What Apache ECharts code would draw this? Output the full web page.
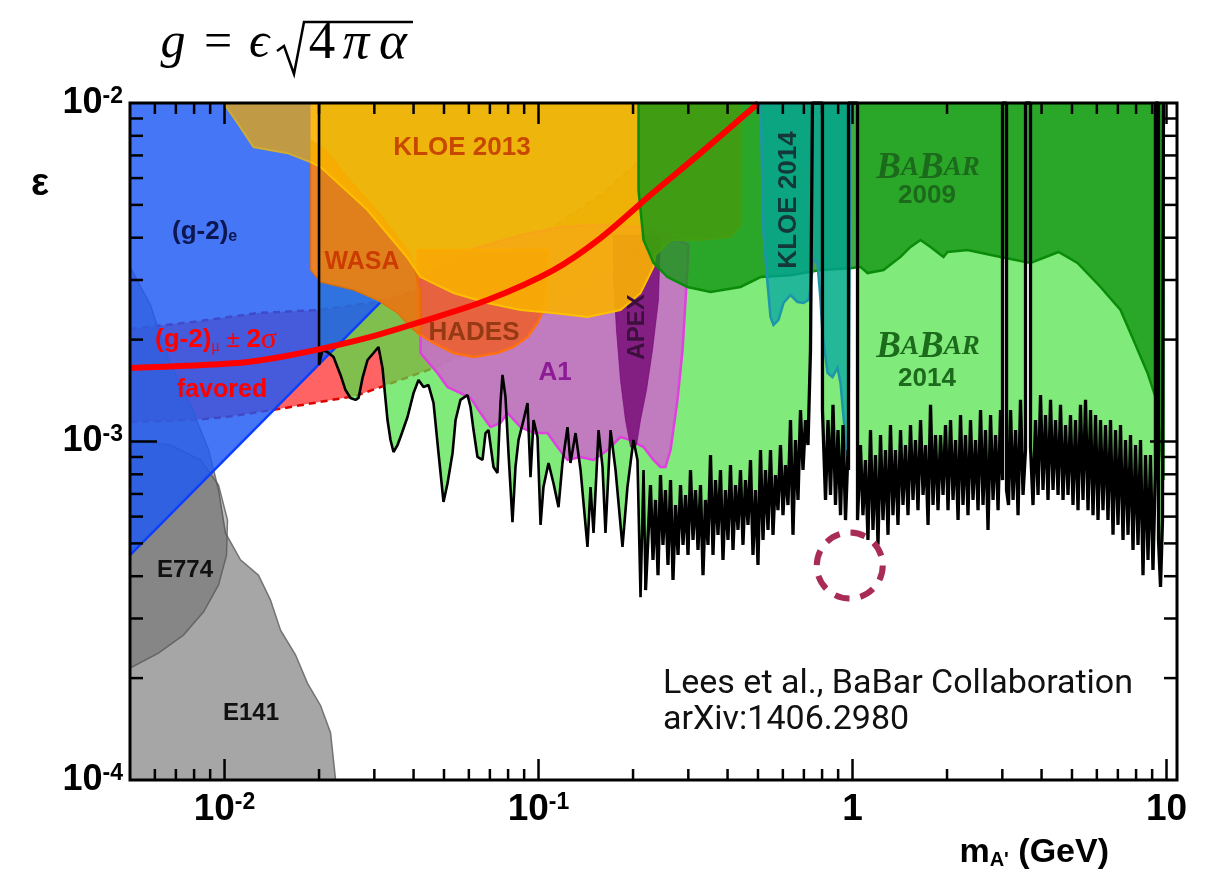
<!DOCTYPE html>
<html>
<head>
<meta charset="utf-8">
<title>BaBar dark photon exclusion</title>
<script src="https://cdn.jsdelivr.net/npm/echarts@6/dist/echarts.min.js"></script>
<style>
  html, body { margin: 0; padding: 0; background: #fff; }
  #chart { width: 1214px; height: 878px; }
</style>
</head>
<body>
<div id="chart"></div>
<script>
// axis ranges (mass in GeV, kinetic mixing epsilon)
const xMin = 0.005, xMax = 10.8;
const yMin = 1e-4, yMax = 1e-2;

const xMajorTicks = [0.01, 0.1, 1, 10];
const xMinorTicks = [0.006, 0.007, 0.008, 0.009, 0.02, 0.03, 0.04, 0.05, 0.06, 0.07, 0.08, 0.09,
  0.2, 0.3, 0.4, 0.5, 0.6, 0.7, 0.8, 0.9, 2, 3, 4, 5, 6, 7, 8, 9];
const yMajorTicks = [1e-3];
const yMinorTicks = [2e-4, 3e-4, 4e-4, 5e-4, 6e-4, 7e-4, 8e-4, 9e-4,
  2e-3, 3e-3, 4e-3, 5e-3, 6e-3, 7e-3, 8e-3, 9e-3];

// (g-2)_mu favoured value and its +-2 sigma band
const g2muMass = [0.005, 0.011, 0.01508, 0.02097, 0.02917, 0.04209, 0.06878, 0.1116, 0.1576, 0.2273, 0.328, 0.5019];
const g2muEps = [1.649e-3, 1.706e-3, 1.777e-3, 1.890e-3, 2.036e-3, 2.255e-3, 2.618e-3, 3.21e-3, 3.99e-3, 5.35e-3, 7.11e-3, 1.0e-2];
const g2muHiMass = [0.005, 0.00791, 0.01283, 0.01994, 0.03071, 0.0463, 0.06878, 0.1015, 0.1576, 0.2113];
const g2muHiEps = [2.15e-3, 2.255e-3, 2.397e-3, 2.446e-3, 2.583e-3, 2.90e-3, 3.393e-3, 4.07e-3, 5.345e-3, 6.78e-3];
const g2muLoMass = [0.005, 0.00791, 0.01007, 0.01486, 0.01852, 0.02614, 0.03139, 0.0463, 0.06878, 0.1015, 0.1576, 0.2113];
const g2muLoEps = [1.141e-3, 1.157e-3, 1.181e-3, 1.247e-3, 1.292e-3, 1.363e-3, 1.448e-3, 1.649e-3, 1.928e-3, 2.333e-3, 3.0e-3, 3.81e-3];

// beam dump regions
const e141Mass = [0.005, 0.005, 0.00581, 0.00663, 0.00724, 0.00791, 0.0089, 0.00957, 0.01007, 0.01124,
  0.01283, 0.01401, 0.01508, 0.01684, 0.01838, 0.02022, 0.02176, 0.02258];
const e141Eps = [1e-4, 3.28e-3, 2.53e-3, 1.741e-3, 1.468e-3, 1.239e-3, 9.44e-4, 7.19e-4, 5.37e-4, 4.47e-4,
  4.03e-4, 3.40e-4, 2.77e-4, 2.34e-4, 1.93e-4, 1.66e-4, 1.38e-4, 1e-4];
const e774Mass = [0.005, 0.00673, 0.00839, 0.00957, 0.01022, 0.01015, 0.00957, 0.00858, 0.0074, 0.00616, 0.005];
const e774Eps = [1.01e-3, 9.76e-4, 8.82e-4, 7.43e-4, 5.86e-4, 4.62e-4, 3.77e-4, 3.14e-4, 2.68e-4, 2.37e-4, 2.14e-4];

// (g-2)_e
const g2eMass = [0.005, 0.01879, 0.01879, 0.02022, 0.02575, 0.03139, 0.005];
const g2eEps = [0.01, 0.01, 3.21e-3, 2.96e-3, 2.803e-3, 2.58e-3, 4.62e-4];

const wasaMass = [0.01879, 0.01879, 0.02022, 0.02575, 0.03071, 0.03556, 0.03998, 0.04209, 0.04209, 0.03911, 0.03139, 0.02428, 0.02097];
const wasaEps = [7.77e-3, 3.21e-3, 2.96e-3, 2.803e-3, 2.618e-3, 2.397e-3, 2.135e-3, 2.078e-3, 2.803e-3, 3.56e-3, 4.67e-3, 6.13e-3, 7.26e-3];

const hadesMass = [0.04118, 0.04118, 0.0463, 0.0536, 0.06209, 0.07402, 0.08322, 0.09226, 0.09927, 0.1053, 0.1076];
const hadesEps = [3.68e-3, 2.092e-3, 1.955e-3, 1.826e-3, 1.777e-3, 1.826e-3, 1.902e-3, 2.036e-3, 2.24e-3, 2.53e-3, 3.68e-3];

const a1Mass = [0.04209, 0.04873, 0.06072, 0.0876, 0.1175, 0.1576, 0.2273, 0.3004, 0.2982, 0.2939,
  0.2875, 0.2771, 0.2633, 0.2537, 0.2446, 0.2323, 0.216, 0.1963, 0.1824, 0.1659,
  0.1497, 0.1361, 0.1237, 0.1149, 0.1068, 0.09641, 0.0876, 0.07964, 0.07566, 0.07031,
  0.06534, 0.06072, 0.05643, 0.0513, 0.04767, 0.04209];
const a1Eps = [3.0e-3, 3.325e-3, 3.68e-3, 4.07e-3, 4.30e-3, 4.36e-3, 4.27e-3, 3.81e-3, 3.28e-3, 2.618e-3,
  1.864e-3, 1.327e-3, 9.44e-4, 8.41e-4, 8.41e-4, 8.82e-4, 9.63e-4, 1.01e-3, 1.031e-3, 9.44e-4,
  8.82e-4, 9.0e-4, 8.82e-4, 9.63e-4, 1.059e-3, 1.059e-3, 1.103e-3, 1.214e-3, 1.134e-3, 1.103e-3,
  1.214e-3, 1.345e-3, 1.390e-3, 1.448e-3, 1.594e-3, 1.826e-3];

const apexMass = [0.1734, 0.2446, 0.241, 0.2307, 0.2208, 0.2113, 0.2052, 0.1963, 0.1892, 0.1824, 0.1771, 0.1734];
const apexEps = [4.07e-3, 4.07e-3, 2.618e-3, 1.864e-3, 1.419e-3, 1.157e-3, 9.76e-4, 9.63e-4, 1.157e-3, 1.52e-3, 2.135e-3, 3.0e-3];

const kloe13Mass = [0.00993, 0.4398, 0.4398, 0.4087, 0.328, 0.2633, 0.2358, 0.2323, 0.2113, 0.1824,
  0.1432, 0.1116, 0.0876, 0.06878, 0.0536, 0.04209, 0.03826, 0.02854, 0.02022, 0.01879,
  0.01588, 0.01237, 0.011];
const kloe13Eps = [0.01, 0.01, 4.36e-3, 4.02e-3, 3.94e-3, 3.94e-3, 3.56e-3, 3.28e-3, 2.746e-3, 2.446e-3,
  2.333e-3, 2.397e-3, 2.446e-3, 2.565e-3, 2.746e-3, 3.06e-3, 3.49e-3, 4.83e-3, 6.47e-3, 6.69e-3,
  7.11e-3, 7.41e-3, 8.73e-3];

const babar09Mass = [0.2082, 0.2082, 0.216, 0.2323, 0.2576, 0.2982, 0.353, 0.4398, 0.5093, 0.6346,
  0.7907, 0.9855, 1.060, 1.116, 1.255, 1.422, 1.530, 1.647, 1.772, 1.949,
  2.007, 2.324, 2.961, 3.689, 4.53, 5.207, 6.163, 7.137, 7.85, 8.70,
  9.22, 9.57, 9.78, 9.78];
const babar09Eps = [0.01, 5.53e-3, 3.94e-3, 3.37e-3, 3.06e-3, 2.861e-3, 2.765e-3, 2.861e-3, 3.06e-3, 3.10e-3,
  3.21e-3, 3.25e-3, 3.28e-3, 3.145e-3, 3.21e-3, 3.51e-3, 3.756e-3, 3.94e-3, 3.756e-3, 3.51e-3,
  3.63e-3, 3.68e-3, 3.51e-3, 3.37e-3, 3.63e-3, 3.37e-3, 2.861e-3, 2.446e-3, 1.995e-3, 1.594e-3,
  1.354e-3, 1.01e-3, 7.69e-4, 0.01];

const kloe14Mass = [0.5093, 0.5206, 0.5361, 0.548, 0.5602, 0.5811, 0.6028, 0.6346, 0.668, 0.698,
  0.7241, 0.7348, 0.7511, 0.7735, 0.7907, 0.8022, 0.8325, 0.8635, 0.8958, 0.9158,
  0.9361, 0.964, 0.9711, 0.9855];
const kloe14Eps = [0.01, 4.125e-3, 2.94e-3, 2.333e-3, 2.21e-3, 2.286e-3, 2.565e-3, 2.709e-3, 2.583e-3, 2.565e-3,
  2.618e-3, 2.861e-3, 3.44e-3, 3.37e-3, 2.618e-3, 2.092e-3, 1.594e-3, 1.551e-3, 1.649e-3, 1.489e-3,
  1.181e-3, 8.82e-4, 1.01e-3, 0.01];

// BaBar 2014 upper limit, low mass part (resolved wiggles)
const babar14LowMass = [
  0.02, 0.02, 0.02051, 0.02128, 0.02224, 0.02341, 0.02428, 0.02519, 0.02614, 0.02672,
  0.02751, 0.02854, 0.02982, 0.03093, 0.03185, 0.03304, 0.03378, 0.03453, 0.03556, 0.03635,
  0.03826, 0.03999, 0.04148, 0.04302, 0.04463, 0.0463, 0.04802, 0.04982, 0.05132, 0.05324,
  0.05443, 0.05643, 0.05941, 0.06072, 0.06209, 0.06392, 0.06632, 0.0678, 0.06928, 0.07189,
  0.07402, 0.07566, 0.07678, 0.07848, 0.08023, 0.08262, 0.08446, 0.08636, 0.08959, 0.09226,
  0.09429, 0.09641, 0.09927, 0.1015, 0.1037, 0.1076, 0.1116, 0.1158, 0.1192, 0.1237,
  0.1264, 0.1312, 0.1361, 0.1432, 0.1464, 0.1497, 0.1553, 0.1599, 0.1634, 0.1696,
  0.1759, 0.1851, 0.192, 0.2006, 0.2066, 0.2113, 0.216, 0.2192
];
const babar14LowEps = [
  0.01, 1.683e-3, 1.864e-3, 1.839e-3, 1.777e-3, 1.573e-3, 1.419e-3, 1.345e-3, 1.327e-3, 1.345e-3,
  1.541e-3, 1.741e-3, 1.826e-3, 1.902e-3, 1.649e-3, 1.157e-3, 1.01e-3, 9.31e-4, 9.76e-4, 1.031e-3,
  1.181e-3, 1.390e-3, 1.52e-3, 1.448e-3, 1.468e-3, 1.300e-3, 9.25e-4, 6.63e-4, 7.53e-4, 9.25e-4,
  1.157e-3, 1.327e-3, 1.372e-3, 1.265e-3, 1.081e-3, 9.0e-4, 8.82e-4, 1.059e-3, 1.081e-3, 8.41e-4,
  8.07e-4, 1.300e-3, 1.573e-3, 1.354e-3, 9.25e-4, 5.78e-4, 8.41e-4, 1.01e-3, 1.157e-3, 1.30e-3,
  7.85e-4, 1.157e-3, 1.031e-3, 5.67e-4, 7.34e-4, 8.64e-4, 7.53e-4, 6.40e-4, 8.64e-4, 1.103e-3,
  8.64e-4, 1.059e-3, 8.24e-4, 4.88e-4, 7.34e-4, 5.37e-4, 1.081e-3, 8.41e-4, 5.37e-4, 1.081e-3,
  8.24e-4, 4.88e-4, 7.34e-4, 1.01e-3, 8.82e-4, 3.47e-4, 8.24e-4, 3.64e-4
];

// BaBar 2014 upper limit, fine-binned part (vetoed resonance windows go up to the top)
const babar14HighMass = [
  0.2273, 0.2315, 0.2358, 0.2402, 0.2446, 0.2491, 0.2537, 0.2584, 0.2633, 0.2681,
  0.2731, 0.2782, 0.2833, 0.2886, 0.2939, 0.2993, 0.3048, 0.3105, 0.3162, 0.3221,
  0.328, 0.3341, 0.3402, 0.3465, 0.353, 0.3595, 0.3662, 0.3729, 0.3798, 0.3868,
  0.394, 0.4013, 0.4087, 0.4163, 0.424, 0.4318, 0.4398, 0.4479, 0.4562, 0.4647,
  0.4733, 0.482, 0.491, 0.5, 0.5093, 0.5187, 0.5283, 0.5381, 0.548, 0.5582,
  0.5685, 0.579, 0.5897, 0.6006, 0.6117, 0.623, 0.6346, 0.6463, 0.6583, 0.6705,
  0.6829, 0.6955, 0.7084, 0.7215, 0.7348, 0.7456,
  0.8022, 0.8022, 0.8204, 0.8356, 0.8509, 0.8667, 0.8827, 0.899, 0.9158, 0.9327,
  0.95, 0.9676, 0.9711, 0.9711,
  1.0374, 1.0374, 1.060, 1.0796, 1.0996, 1.12, 1.141, 1.162, 1.1836, 1.2055,
  1.228, 1.2507, 1.2738, 1.2974, 1.321, 1.3455, 1.3703, 1.3957, 1.422, 1.4483,
  1.475, 1.5023, 1.530, 1.5583, 1.587, 1.6164, 1.647, 1.6775, 1.7085, 1.7401,
  1.772, 1.8048, 1.838, 1.872, 1.907, 1.9423, 1.978, 2.0146, 2.052, 2.09,
  2.129, 2.1684, 2.208, 2.2488, 2.290, 2.3324, 2.376, 2.42, 2.465, 2.5106,
  2.557, 2.6043, 2.652, 2.7011, 2.752, 2.8029, 2.855, 2.9078, 2.961, 3.004, 3.004,
  3.094, 3.094, 3.14, 3.187, 3.246, 3.306, 3.367, 3.428, 3.492, 3.556, 3.556,
  3.689, 3.689, 3.757, 3.827, 3.898, 3.970, 4.043, 4.118, 4.194, 4.272,
  4.351, 4.432, 4.514, 4.597, 4.682, 4.769, 4.857, 4.946, 5.038, 5.131,
  5.226, 5.323, 5.421, 5.522, 5.624, 5.728, 5.834, 5.942, 6.052, 6.163,
  6.277, 6.393, 6.511, 6.632, 6.755, 6.880, 7.007, 7.137, 7.269, 7.404,
  7.541, 7.680, 7.822, 7.967, 8.114, 8.264, 8.417, 8.573, 8.732, 8.89,
  9.055, 9.22, 9.22, 9.43, 9.43, 9.57, 9.71, 9.78
];
const babar14HighEps = [
  7.43e-4, 4.47e-4, 6.72e-4, 4.03e-4, 7.96e-4, 4.95e-4, 7.19e-4, 4.32e-4, 7.69e-4, 3.90e-4,
  6.49e-4, 4.62e-4, 7.43e-4, 4.95e-4, 6.95e-4, 4.62e-4, 8.24e-4, 5.12e-4, 7.19e-4, 4.78e-4,
  7.43e-4, 4.03e-4, 6.72e-4, 4.95e-4, 9.12e-4, 4.62e-4, 7.69e-4, 5.30e-4, 8.24e-4, 4.47e-4,
  7.19e-4, 5.12e-4, 8.52e-4, 4.78e-4, 7.43e-4, 5.48e-4, 8.24e-4, 4.95e-4, 7.69e-4, 5.67e-4,
  8.82e-4, 4.62e-4, 7.19e-4, 4.32e-4, 9.44e-4, 5.12e-4, 8.24e-4, 5.48e-4, 9.44e-4, 5.30e-4,
  7.96e-4, 6.27e-4, 9.76e-4, 6.06e-4, 8.52e-4, 6.49e-4, 1.157e-3, 5.30e-4, 1.01e-3, 6.72e-4,
  1.239e-3, 8.24e-4, 1.157e-3, 9.76e-4, 1.864e-3, 0.01,
  0.01, 1.239e-3, 6.72e-4, 1.157e-3, 6.95e-4, 1.283e-3, 6.49e-4, 1.081e-3, 6.06e-4, 1.119e-3,
  5.86e-4, 9.44e-4, 8.24e-4, 0.01,
  0.01, 5.86e-4, 9.76e-4, 6.06e-4, 8.82e-4, 5.12e-4, 1.081e-3, 5.48e-4, 9.12e-4, 4.95e-4,
  1.045e-3, 5.86e-4, 9.44e-4, 5.30e-4, 1.119e-3, 6.06e-4, 9.44e-4, 5.67e-4, 1.081e-3, 6.49e-4,
  9.76e-4, 6.06e-4, 1.119e-3, 6.72e-4, 1.01e-3, 6.27e-4, 1.157e-3, 6.95e-4, 9.76e-4, 5.67e-4,
  1.283e-3, 6.49e-4, 1.045e-3, 6.27e-4, 1.045e-3, 6.95e-4, 1.119e-3, 6.27e-4, 1.157e-3, 6.72e-4,
  1.01e-3, 5.86e-4, 1.197e-3, 6.49e-4, 1.045e-3, 6.06e-4, 1.157e-3, 6.72e-4, 1.01e-3, 6.27e-4,
  1.239e-3, 6.49e-4, 1.081e-3, 5.48e-4, 1.197e-3, 6.72e-4, 1.045e-3, 6.27e-4, 1.239e-3, 7.69e-4, 0.01,
  0.01, 7.19e-4, 6.49e-4, 1.239e-3, 6.72e-4, 1.081e-3, 6.06e-4, 1.327e-3, 6.95e-4, 9.44e-4, 0.01,
  0.01, 9.63e-4, 6.49e-4, 1.157e-3, 6.95e-4, 1.372e-3, 7.19e-4, 1.197e-3, 6.72e-4, 1.327e-3,
  7.19e-4, 1.157e-3, 6.95e-4, 1.283e-3, 6.72e-4, 1.119e-3, 6.95e-4, 1.197e-3, 6.49e-4, 1.157e-3,
  6.27e-4, 1.283e-3, 6.72e-4, 1.327e-3, 6.27e-4, 1.239e-3, 6.06e-4, 1.197e-3, 5.86e-4, 1.157e-3,
  6.27e-4, 1.119e-3, 5.86e-4, 1.157e-3, 5.30e-4, 1.081e-3, 5.67e-4, 1.119e-3, 5.12e-4, 1.01e-3,
  5.30e-4, 1.045e-3, 4.78e-4, 9.76e-4, 4.95e-4, 1.01e-3, 4.03e-4, 9.12e-4, 4.47e-4, 9.12e-4,
  4.17e-4, 8.24e-4, 0.01, 0.01, 5.12e-4, 3.72e-4, 5.86e-4, 0.01
];

// dashed circle marking the region of interest
const circleMark = [[0.98, 4.3e-4]];

function zip(xs, ys) {
  return xs.map(function (x, i) { return [x, ys[i]]; });
}

// filled exclusion region drawn as one polygon through the axes
function region(name, pts, z, style) {
  return {
    name: name,
    type: 'custom',
    z: z,
    silent: true,
    clip: true,
    data: pts,
    renderItem: function (params, api) {
      if (params.dataIndex !== 0) return null;
      return {
        type: 'polygon',
        shape: { points: pts.map(function (p) { return api.coord(p); }) },
        style: Object.assign({}, style)
      };
    }
  };
}

function curve(name, data, z, lineStyle, smooth) {
  return {
    name: name,
    type: 'line',
    z: z,
    silent: true,
    clip: true,
    symbol: 'none',
    smooth: smooth || false,
    data: data,
    lineStyle: lineStyle
  };
}

function powerLabel(v) {
  const l = Math.log10(v);
  const e = Math.round(l);
  if (Math.abs(l - e) > 1e-6) return '';
  if (e === 0) return '{b|1}';
  if (e === 1) return '{b|10}';
  return '{b|10}{s|' + e + '}';
}

function labelRich(big, small) {
  return {
    b: { fontFamily: 'Liberation Sans', fontWeight: 'bold', fontSize: big, color: '#000' },
    s: { fontFamily: 'Liberation Sans', fontWeight: 'bold', fontSize: small, color: '#000', verticalAlign: 'top' }
  };
}

// rich token style for graphic texts (zrender wants fill)
function tok(family, size, fill, more) {
  return Object.assign({ fontFamily: family, fontSize: size, fill: fill, color: fill }, more || {});
}

function txt(text, x, y, font, fill, extra) {
  return Object.assign({
    type: 'text', x: x, y: y, z: 100, silent: true,
    style: { text: text, font: font, fill: fill, align: 'center', verticalAlign: 'middle',
      textAlign: 'center', textVerticalAlign: 'middle' }
  }, extra || {});
}

function richTxt(text, x, y, align, rich) {
  return {
    type: 'text', x: x, y: y, z: 100, silent: true,
    style: { text: text, rich: rich, align: align, verticalAlign: 'middle',
      textAlign: align, textVerticalAlign: 'middle' }
  };
}

const bandPts = zip(g2muHiMass, g2muHiEps).concat(zip(g2muLoMass, g2muLoEps).reverse());
const babar14Low = zip(babar14LowMass, babar14LowEps);
const babar14High = zip(babar14HighMass, babar14HighEps);
const babar14 = babar14Low.concat(babar14High);

const tickData = []
  .concat(xMajorTicks.map(function (v) { return [v, yMin, 1, 0]; }))
  .concat(xMinorTicks.map(function (v) { return [v, yMin, 0, 0]; }))
  .concat(yMajorTicks.map(function (v) { return [xMin, v, 1, 1]; }))
  .concat(yMinorTicks.map(function (v) { return [xMin, v, 0, 1]; }));

const tickStyle = { stroke: '#000', lineWidth: 2.5 };

const babarGreen = '#1c6a1c';
const babarRich = {
  B: tok('Liberation Serif', 37, babarGreen, { fontStyle: 'italic', fontWeight: 'bold' }),
  s: tok('Liberation Serif', 27, babarGreen, { fontStyle: 'italic', fontWeight: 'bold' })
};
const serif = tok('Liberation Serif', 50, '#000');
const serifIt = tok('Liberation Serif', 50, '#000', { fontStyle: 'italic' });

const chart = echarts.init(document.getElementById('chart'));

chart.setOption({
  animation: false,
  backgroundColor: '#ffffff',
  grid: { left: 130, right: 37, top: 103, bottom: 98 },
  xAxis: {
    type: 'log', logBase: 10, min: xMin, max: xMax,
    axisLine: { show: false }, axisTick: { show: false }, splitLine: { show: false },
    axisLabel: { margin: 11, formatter: powerLabel, rich: labelRich(37, 23) }
  },
  yAxis: {
    type: 'log', logBase: 10, min: yMin, max: yMax,
    axisLine: { show: false }, axisTick: { show: false }, splitLine: { show: false },
    axisLabel: { margin: 7, formatter: powerLabel, rich: labelRich(36, 23) }
  },
  graphic: [
    // coupling formula on top
    richTxt('{i|g}', 173, 44, 'center', { i: serifIt }),
    richTxt('{r|=}', 218, 44, 'center', { r: serif }),
    richTxt('{i|ϵ}', 259, 44, 'center', { i: serifIt }),
    richTxt('{r|4}', 322, 44, 'center', { r: tok('Liberation Serif', 53, '#000') }),
    richTxt('{i|π}', 356, 44, 'center', { i: tok('Liberation Serif', 53, '#000', { fontStyle: 'italic' }) }),
    richTxt('{i|α}', 393, 44, 'center', { i: tok('Liberation Serif', 53, '#000', { fontStyle: 'italic' }) }),
    { type: 'polyline', z: 100, silent: true,
      shape: { points: [[277, 51], [284, 46], [294, 74], [304, 22], [413, 22]] },
      style: { stroke: '#000', fill: null, lineWidth: 2.5 } },

    // axis names
    txt('ε', 40, 185, 'bold 38px Liberation Sans', '#000'),
    richTxt('{m|m}{s|A\'}{m| (GeV)}', 1109, 853, 'right', {
      m: tok('Liberation Sans', 34, '#000', { fontWeight: 'bold' }),
      s: tok('Liberation Sans', 20, '#000', { fontWeight: 'bold', verticalAlign: 'bottom' })
    }),

    // region labels
    richTxt('{a|(g-2)}{e|e}', 172, 232, 'left', {
      a: tok('Liberation Sans', 26, '#0c1650', { fontWeight: 'bold' }),
      e: tok('Liberation Sans', 16, '#0c1650', { fontWeight: 'bold', verticalAlign: 'bottom' })
    }),
    richTxt('{a|(g-2)}{u|μ}{p| ± }{a|2}{g|σ}', 155, 340, 'left', {
      a: tok('Liberation Sans', 26, '#ff0000', { fontWeight: 'bold' }),
      u: tok('Liberation Serif', 16, '#ff0000', { verticalAlign: 'bottom' }),
      p: tok('Liberation Sans', 24, '#ff0000'),
      g: tok('Liberation Serif', 30, '#ff0000')
    }),
    txt('favored', 222, 390, 'bold 25px Liberation Sans', '#ff0000'),
    txt('KLOE 2013', 462, 148, 'bold 26px Liberation Sans', '#c84800'),
    txt('WASA', 362, 262, 'bold 25px Liberation Sans', '#cc3c00'),
    txt('HADES', 474, 333, 'bold 26px Liberation Sans', '#963a14'),
    txt('A1', 555, 373, 'bold 26px Liberation Sans', '#8c1c96'),
    txt('APEX', 637, 327, 'bold 24px Liberation Sans', '#3c0f3c', { rotation: Math.PI / 2 }),
    txt('KLOE 2014', 789, 200, 'bold 26px Liberation Sans', '#143838', { rotation: Math.PI / 2 }),
    richTxt('{B|B}{s|A}{B|B}{s|AR}', 928, 168, 'center', babarRich),
    txt('2009', 927, 196, 'bold 26px Liberation Sans', babarGreen),
    richTxt('{B|B}{s|A}{B|B}{s|AR}', 928, 347, 'center', babarRich),
    txt('2014', 927, 379, 'bold 26px Liberation Sans', babarGreen),
    txt('E774', 185, 570, 'bold 24px Liberation Sans', '#111'),
    txt('E141', 251, 713, 'bold 24px Liberation Sans', '#111'),

    // reference
    richTxt('{t|Lees et al., BaBar Collaboration}', 663, 684, 'left', { t: tok('Roboto', 34, '#111') }),
    richTxt('{t|arXiv:1406.2980}', 663, 720, 'left', { t: tok('Roboto', 34, '#111') })
  ],
  series: [
    region('(g-2)mu band', bandPts, 1, { fill: 'rgba(255,60,60,0.8)' }),
    curve('band upper', zip(g2muHiMass, g2muHiEps), 1.5, { color: '#e00000', width: 2.5, type: [7, 5] }),
    curve('band lower', zip(g2muLoMass, g2muLoEps), 1.5, { color: '#e00000', width: 2.5, type: [7, 5] }),
    region('E141', zip(e141Mass, e141Eps), 2, { fill: 'rgba(128,128,128,0.7)', stroke: 'rgba(105,105,105,0.9)', lineWidth: 1.5 }),
    region('E774', zip(e774Mass, e774Eps), 2.1, { fill: 'rgba(60,60,60,0.3)', stroke: 'rgba(90,90,90,0.8)', lineWidth: 1.5 }),
    region('BaBar 2014', babar14, 3, { fill: 'rgba(79,226,70,0.72)' }),
    region('(g-2)e', zip(g2eMass, g2eEps), 4, { fill: 'rgba(30,90,245,0.78)' }),
    curve('(g-2)e edge', zip(g2eMass.slice(5), g2eEps.slice(5)), 4.1, { color: '#0a3cff', width: 2.5 }),
    region('A1', zip(a1Mass, a1Eps), 5, { fill: 'rgba(200,112,200,0.9)', stroke: '#e040e0', lineWidth: 2.5 }),
    region('APEX', zip(apexMass, apexEps), 6, { fill: 'rgba(110,0,110,0.75)', stroke: 'rgba(120,0,120,0.6)', lineWidth: 1 }),
    region('HADES', zip(hadesMass, hadesEps), 7, { fill: 'rgba(235,95,50,0.9)', stroke: '#ff7010', lineWidth: 2.5 }),
    region('WASA', zip(wasaMass, wasaEps), 8, { fill: 'rgba(232,118,20,0.92)', stroke: 'rgba(230,110,0,0.9)', lineWidth: 1.5 }),
    region('KLOE 2013', zip(kloe13Mass, kloe13Eps), 9, { fill: 'rgba(250,176,0,0.9)', stroke: '#ffc000', lineWidth: 2 }),
    region('(g-2)e over', zip(g2eMass, g2eEps), 10, { fill: 'rgba(30,90,245,0.2)' }),
    region('BaBar 2009', zip(babar09Mass, babar09Eps), 11, { fill: 'rgba(20,150,20,0.8)', stroke: '#0a8c0a', lineWidth: 2.5 }),
    region('KLOE 2014', zip(kloe14Mass, kloe14Eps), 12, { fill: 'rgba(0,165,165,0.72)', stroke: '#1e96aa', lineWidth: 2.5 }),
    curve('BaBar 2014 limit', babar14Low, 13, { color: '#000', width: 2.6 }),
    curve('BaBar 2014 limit fine', [babar14Low[babar14Low.length - 1]].concat(babar14High), 13, { color: '#000', width: 3.3 }),
    curve('(g-2)mu', zip(g2muMass, g2muEps), 14, { color: '#ff0000', width: 6 }, 0.3),
    {
      name: 'mark', type: 'custom', z: 15, silent: true, data: circleMark,
      renderItem: function (params, api) {
        const c = api.coord([api.value(0), api.value(1)]);
        return { type: 'circle', shape: { cx: c[0], cy: c[1], r: 33 },
          style: { fill: null, stroke: '#a82c55', lineWidth: 6, lineDash: [15, 11] } };
      }
    },
    {
      name: 'frame', type: 'custom', z: 20, silent: true, clip: false, data: tickData,
      renderItem: function (params, api) {
        const v0 = api.value(0), v1 = api.value(1), major = api.value(2), axis = api.value(3);
        const children = [];
        if (params.dataIndex === 0) {
          const tl = api.coord([xMin, yMax]), br = api.coord([xMax, yMin]);
          children.push({ type: 'rect', shape: { x: tl[0], y: tl[1], width: br[0] - tl[0], height: br[1] - tl[1] },
            style: { fill: null, stroke: '#000', lineWidth: 3 } });
        }
        if (axis === 0) {
          const len = major ? 21 : 11;
          const b = api.coord([v0, yMin]), t = api.coord([v0, yMax]);
          children.push({ type: 'line', shape: { x1: b[0], y1: b[1], x2: b[0], y2: b[1] - len }, style: tickStyle });
          children.push({ type: 'line', shape: { x1: t[0], y1: t[1], x2: t[0], y2: t[1] + len }, style: tickStyle });
        } else {
          const len = major ? 27 : 13;
          const l = api.coord([xMin, v1]), r = api.coord([xMax, v1]);
          children.push({ type: 'line', shape: { x1: l[0], y1: l[1], x2: l[0] + len, y2: l[1] }, style: tickStyle });
          children.push({ type: 'line', shape: { x1: r[0], y1: r[1], x2: r[0] - len, y2: r[1] }, style: tickStyle });
        }
        return { type: 'group', children: children };
      }
    }
  ]
});
</script>
</body>
</html>
